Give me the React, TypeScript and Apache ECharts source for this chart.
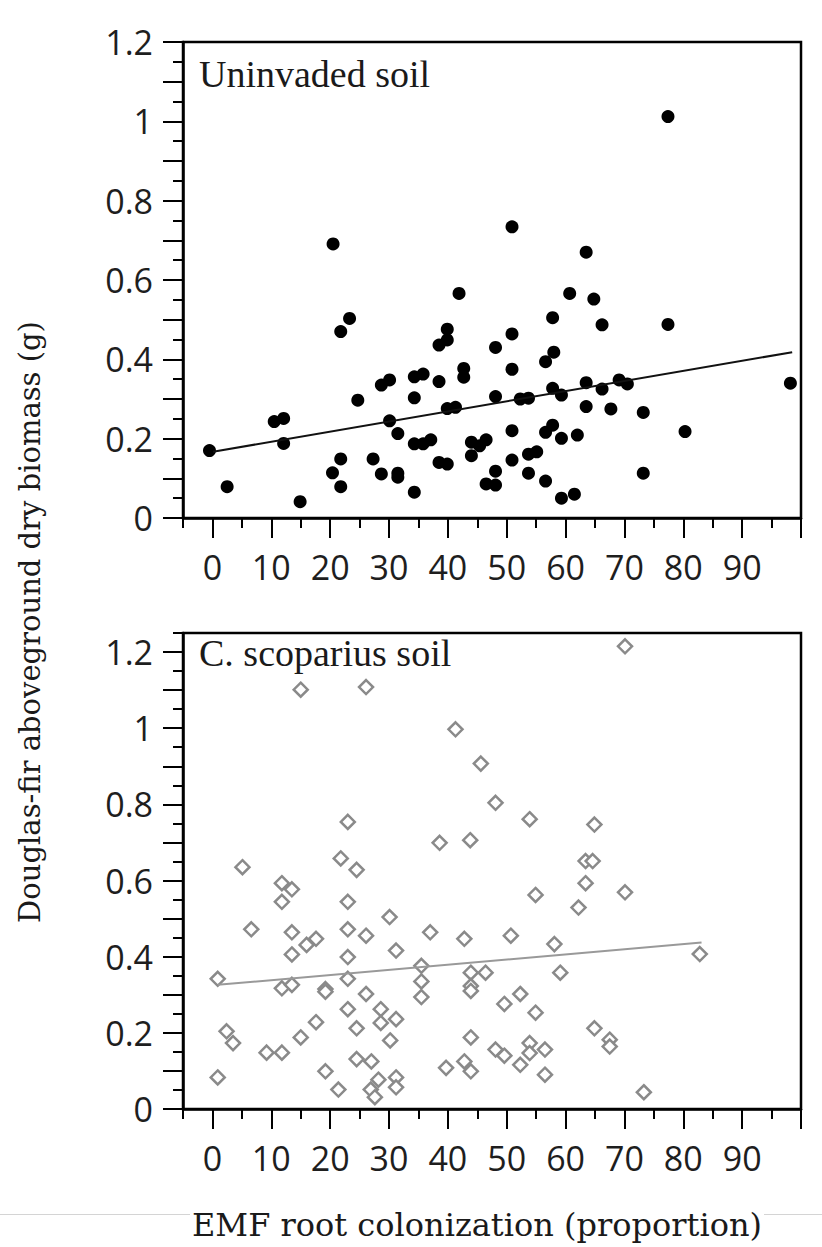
import React, { useEffect, useRef } from "react";
import * as echarts from "echarts";

// ---- data ----
const uninvadedX = [-0.5, 2.5, 10.5, 12.1, 12.1, 14.9, 20.4, 20.5, 21.8, 23.3, 21.8, 21.8, 24.7, 27.3, 28.7, 30.1, 28.7, 30.1, 31.5, 31.5, 31.5, 34.3, 35.8, 34.3, 34.3, 35.8, 37.1, 34.3, 38.5, 38.5, 39.9, 39.9, 38.5, 39.9, 39.9, 41.3, 41.9, 42.7, 42.7, 44.0, 44.0, 45.4, 46.5, 46.5, 48.1, 48.1, 48.1, 48.1, 50.9, 50.9, 50.9, 50.9, 50.9, 52.3, 53.7, 53.7, 53.7, 55.1, 56.6, 56.6, 56.6, 57.8, 58.0, 57.8, 57.8, 59.3, 59.3, 59.3, 60.7, 61.5, 62.0, 63.5, 63.5, 63.5, 64.8, 66.2, 66.2, 67.7, 69.1, 70.5, 73.2, 73.2, 77.4, 77.4, 80.3, 98.2];
const uninvadedY = [0.170, 0.079, 0.243, 0.251, 0.188, 0.041, 0.114, 0.691, 0.470, 0.503, 0.149, 0.079, 0.297, 0.149, 0.335, 0.348, 0.111, 0.245, 0.213, 0.113, 0.103, 0.356, 0.363, 0.303, 0.187, 0.187, 0.197, 0.065, 0.344, 0.436, 0.449, 0.476, 0.140, 0.136, 0.276, 0.279, 0.566, 0.377, 0.355, 0.191, 0.157, 0.182, 0.197, 0.086, 0.430, 0.306, 0.118, 0.083, 0.734, 0.464, 0.375, 0.220, 0.146, 0.300, 0.302, 0.161, 0.113, 0.167, 0.394, 0.216, 0.093, 0.505, 0.418, 0.327, 0.234, 0.310, 0.201, 0.050, 0.566, 0.060, 0.209, 0.670, 0.341, 0.281, 0.552, 0.487, 0.325, 0.275, 0.348, 0.338, 0.266, 0.113, 1.012, 0.488, 0.218, 0.340];
const uninvadedFitX = [0.1, 98.5];
const uninvadedFitY = [0.167, 0.418];

const scopariusX = [15.0, 26.1, 41.3, 45.6, 48.1, 70.1, 23.0, 53.9, 64.9, 38.6, 43.8, 21.8, 5.1, 24.5, 63.4, 64.6, 11.8, 13.5, 63.4, 70.1, 54.9, 11.8, 23.0, 62.2, 30.1, 6.6, 13.5, 23.0, 26.1, 37.0, 50.7, 42.8, 17.6, 16.0, 58.1, 13.5, 31.2, 82.8, 23.0, 35.5, 43.9, 46.4, 59.1, 0.9, 23.0, 35.5, 11.8, 13.5, 19.2, 19.2, 43.9, 43.9, 26.1, 52.3, 35.5, 49.6, 23.0, 28.6, 54.9, 31.2, 28.6, 17.6, 24.5, 64.9, 2.4, 3.5, 15.0, 30.2, 43.9, 67.5, 67.5, 53.9, 48.1, 56.5, 49.6, 53.9, 9.2, 11.8, 24.5, 27.0, 42.8, 52.3, 39.7, 19.2, 43.9, 56.5, 0.9, 31.2, 28.2, 31.2, 26.9, 21.4, 27.6, 73.3];
const scopariusY = [1.101, 1.108, 0.997, 0.907, 0.804, 1.215, 0.754, 0.761, 0.747, 0.699, 0.706, 0.658, 0.635, 0.628, 0.651, 0.651, 0.593, 0.577, 0.593, 0.569, 0.562, 0.544, 0.544, 0.529, 0.504, 0.472, 0.464, 0.472, 0.455, 0.464, 0.455, 0.447, 0.447, 0.431, 0.433, 0.406, 0.416, 0.407, 0.399, 0.376, 0.358, 0.358, 0.358, 0.342, 0.342, 0.335, 0.317, 0.326, 0.315, 0.308, 0.323, 0.310, 0.302, 0.302, 0.294, 0.276, 0.262, 0.262, 0.253, 0.236, 0.226, 0.228, 0.212, 0.212, 0.204, 0.173, 0.188, 0.180, 0.188, 0.182, 0.164, 0.173, 0.156, 0.156, 0.140, 0.147, 0.148, 0.148, 0.131, 0.125, 0.125, 0.116, 0.108, 0.099, 0.099, 0.090, 0.083, 0.083, 0.077, 0.057, 0.051, 0.051, 0.031, 0.044];
const scopariusFitX = [0.9, 83.1];
const scopariusFitY = [0.326, 0.437];

// ---- ticks / labels ----
const xMajorTicks = [0, 10, 20, 30, 40, 50, 60, 70, 80, 90, 100];
const xMinorTicks = [-5, 5, 15, 25, 35, 45, 55, 65, 75, 85, 95];
const xTickLabels = [0, 10, 20, 30, 40, 50, 60, 70, 80, 90];
const yMajorTicks = [0, 0.1, 0.2, 0.3, 0.4, 0.5, 0.6, 0.7, 0.8, 0.9, 1, 1.1, 1.2];
const yMinorTicksTop = [0.05, 0.15, 0.25, 0.35, 0.45, 0.55, 0.65, 0.75, 0.85, 0.95, 1.05, 1.15];
const yMinorTicksBottom = [0.05, 0.15, 0.25, 0.35, 0.45, 0.55, 0.65, 0.75, 0.85, 0.95, 1.05, 1.15, 1.25];
const yTickLabels = [0, 0.2, 0.4, 0.6, 0.8, 1, 1.2];

const panelTitles = ["Uninvaded soil", "C. scoparius soil"];
const yTitle = "Douglas-fir aboveground dry biomass (g)";
const xTitle = "EMF root colonization (proportion)";

const pairs = (xs: number[], ys: number[]) => xs.map((x, i) => [x, ys[i]]);

export default function App() {
  const ref = useRef<HTMLDivElement>(null);
  useEffect(() => {
    if (!ref.current) return;
    const chart = echarts.init(ref.current, undefined, { renderer: "svg" });
    const tickFont = { fontFamily: "Open Sans", fontSize: 34, color: "#1e1e1e" };
    const axisStroke = { color: "#000", width: 2.5 };
    const tickStroke = { color: "#000", width: 2 };
    const grids = [
      { left: 183, top: 42, width: 618, height: 476 },
      { left: 183, top: 633, width: 618, height: 476 },
    ].map((g) => ({ ...g, show: true, borderColor: "#000", borderWidth: 2.5, backgroundColor: "transparent" }));

    const xAxes: any[] = [];
    const yAxes: any[] = [];
    [0, 1].forEach((g) => {
      const ymax = g === 0 ? 1.2 : 1.25;
      xAxes.push({
        gridIndex: g, type: "value", min: -5, max: 100, position: "bottom",
        axisLine: { show: true, onZero: false, lineStyle: axisStroke },
        axisTick: { show: true, customValues: xMajorTicks, length: 20, lineStyle: tickStroke },
        axisLabel: { show: true, customValues: xTickLabels, margin: 32, ...tickFont, formatter: (v: number) => String(v) },
        splitLine: { show: false },
      });
      xAxes.push({
        gridIndex: g, type: "value", min: -5, max: 100, position: "bottom",
        axisLine: { show: false, onZero: false },
        axisTick: { show: true, customValues: xMinorTicks, length: 10, lineStyle: tickStroke },
        axisLabel: { show: false },
        splitLine: { show: false },
      });
      yAxes.push({
        gridIndex: g, type: "value", min: 0, max: ymax, position: "left",
        axisLine: { show: true, onZero: false, lineStyle: axisStroke },
        axisTick: { show: true, customValues: yMajorTicks, length: 20, lineStyle: tickStroke },
        axisLabel: { show: true, customValues: yTickLabels, margin: 30, ...tickFont, formatter: (v: number) => String(Math.round(v * 10) / 10) },
        splitLine: { show: false },
      });
      yAxes.push({
        gridIndex: g, type: "value", min: 0, max: ymax, position: "left",
        axisLine: { show: false, onZero: false },
        axisTick: { show: true, customValues: g === 0 ? yMinorTicksTop : yMinorTicksBottom, length: 10, lineStyle: tickStroke },
        axisLabel: { show: false },
        splitLine: { show: false },
      });
    });

    chart.setOption({
      animation: false,
      backgroundColor: "#fff",
      grid: grids,
      xAxis: xAxes,
      yAxis: yAxes,
      series: [
        {
          type: "scatter", xAxisIndex: 0, yAxisIndex: 0,
          data: pairs(uninvadedX, uninvadedY),
          symbol: "circle", symbolSize: 13,
          itemStyle: { color: "#000", opacity: 1 }, z: 3,
        },
        {
          type: "line", xAxisIndex: 0, yAxisIndex: 0,
          data: pairs(uninvadedFitX, uninvadedFitY),
          symbol: "none", lineStyle: { color: "#111", width: 2 }, z: 4,
        },
        {
          type: "scatter", xAxisIndex: 2, yAxisIndex: 2,
          data: pairs(scopariusX, scopariusY),
          symbol: "diamond", symbolSize: 14,
          itemStyle: { color: "#fff", borderColor: "#8a8a8a", borderWidth: 2.5, opacity: 1 }, z: 3,
        },
        {
          type: "line", xAxisIndex: 2, yAxisIndex: 2,
          data: pairs(scopariusFitX, scopariusFitY),
          symbol: "none", lineStyle: { color: "#999", width: 2 }, z: 4,
        },
      ],
      graphic: [
        {
          type: "text", left: 199, top: 55, z: 10,
          style: { text: panelTitles[0], font: "38px 'Liberation Serif'", fill: "#1a1a1a" },
        },
        {
          type: "text", left: 199, top: 634, z: 10,
          style: { text: panelTitles[1], font: "38px 'Liberation Serif'", fill: "#1a1a1a" },
        },
        {
          type: "line", z: 1,
          shape: { x1: 0, y1: 1214.5, x2: 822, y2: 1214.5 },
          style: { stroke: "#d4d4d4", lineWidth: 1 },
        },
        {
          type: "text", z: 10,
          x: 477, y: 1225,
          style: {
            text: xTitle, font: "32px 'DejaVu Serif'", fill: "#1a1a1a",
            align: "center", verticalAlign: "middle", backgroundColor: "#fff", padding: [4, 2],
          },
        },
        {
          type: "text", z: 10,
          x: 30, y: 622, rotation: Math.PI / 2,
          style: { text: yTitle, font: "29px 'DejaVu Serif'", fill: "#1a1a1a", align: "center", verticalAlign: "middle" },
        },
      ],
    });
    return () => chart.dispose();
  }, []);
  return <div ref={ref} style={{ position: "absolute", left: 0, top: 0, width: 822, height: 1247 }} />;
}
